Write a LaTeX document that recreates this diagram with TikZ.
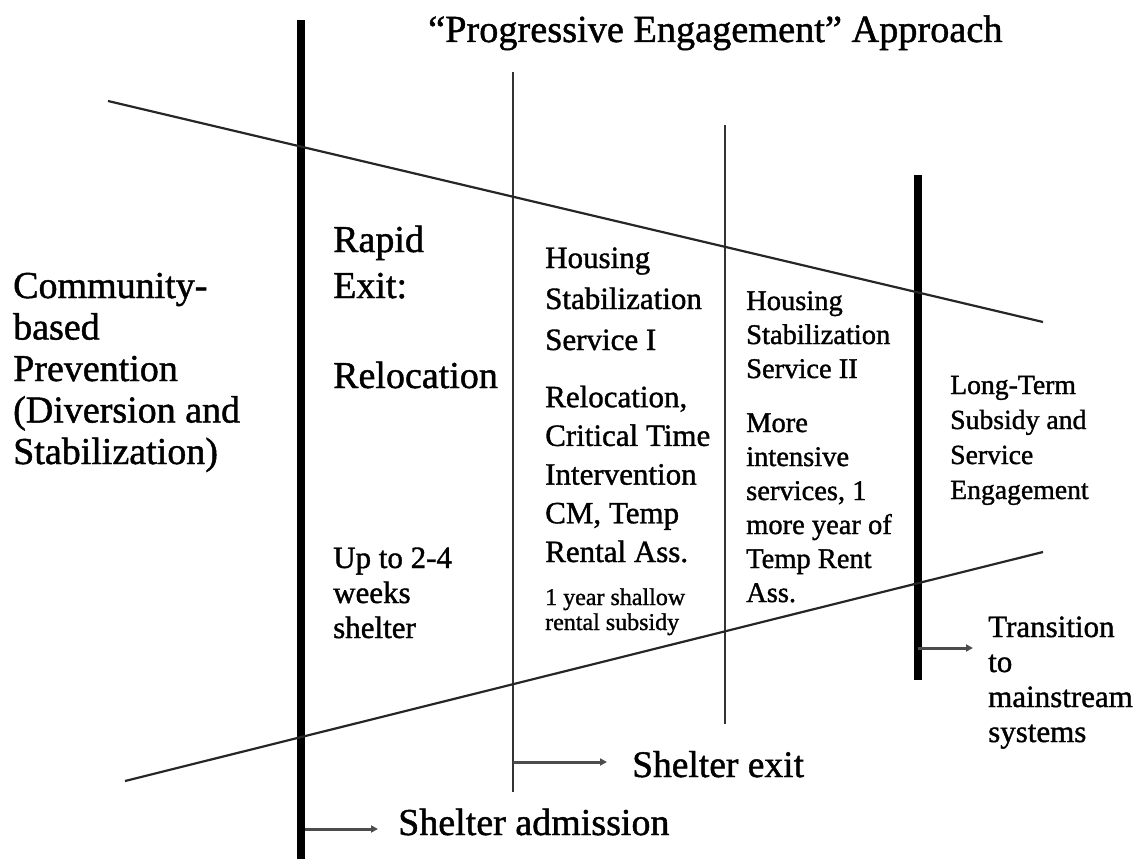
\documentclass[tikz,border=0pt]{standalone}
\usepackage{fontspec}
\setmainfont[FakeBold=1.2]{Liberation Serif}
\usetikzlibrary{arrows.meta}
\begin{document}
\begin{tikzpicture}[x=1pt,y=-1pt,
  thickline/.style={line width=7.5pt,black},
  thinline/.style={line width=2.8pt,black!80},
  diagline/.style={line width=2.2pt,black!85},
  arrowline/.style={line width=3pt,black!70,-{Triangle[length=7pt,width=7pt]}},
  lbl/.style={anchor=base west,inner sep=0pt,align=left,text=black}]
\useasboundingbox (0,0) rectangle (1141,859);
% structural lines
\coordinate (adT) at (301,20);  \coordinate (adB) at (301,859);
\coordinate (exT) at (513,72);  \coordinate (exB) at (513,792);
\coordinate (hsT) at (725,125); \coordinate (hsB) at (725,724);
\coordinate (trT) at (918,175); \coordinate (trB) at (918,680);
\coordinate (upL) at (108,101); \coordinate (upR) at (1043,322);
\coordinate (loL) at (125,781); \coordinate (loR) at (1043,552);
\draw[thickline] (adT) -- (adB);
\draw[thinline] (exT) -- (exB);
\draw[thinline] (hsT) -- (hsB);
\draw[thickline] (trT) -- (trB);
\draw[diagline] (upL) -- (upR);
\draw[diagline] (loL) -- (loR);
% texts (anchor = baseline of last line)
\node[lbl,font=\fontsize{38.3}{42}\selectfont] (title) at (428,42) {“Progressive Engagement” Approach};
\node[lbl,font=\fontsize{38}{41.5}\selectfont] (prev) at (13,464) {Community-\\based\\Prevention\\(Diversion and\\Stabilization)};
\node[lbl,font=\fontsize{38}{46}\selectfont] (rapid) at (333,298) {Rapid\\Exit:};
\node[lbl,font=\fontsize{38}{46}\selectfont] (reloc) at (333,388) {Relocation};
\node[lbl,font=\fontsize{31}{35}\selectfont] (upto) at (333,638) {Up to 2-4\\weeks\\shelter};
\node[lbl,font=\fontsize{31}{41}\selectfont] (hsone) at (545,350) {Housing\\Stabilization\\Service I};
\node[lbl,font=\fontsize{31}{38.7}\selectfont] (hsonebody) at (545,562) {Relocation,\\Critical Time\\Intervention\\CM, Temp\\Rental Ass.};
\node[lbl,font=\fontsize{24}{25}\selectfont] (hsonesmall) at (545,630) {1 year shallow\\rental subsidy};
\node[lbl,font=\fontsize{28.5}{34}\selectfont] (hstwo) at (746,378) {Housing\\Stabilization\\Service II};
\node[lbl,font=\fontsize{28.5}{34}\selectfont] (hstwobody) at (746,602) {More\\intensive\\services, 1\\more year of\\Temp Rent\\Ass.};
\node[lbl,font=\fontsize{27.7}{35}\selectfont] (longterm) at (950,499) {Long-Term\\Subsidy and\\Service\\Engagement};
\node[lbl,font=\fontsize{31}{35}\selectfont] (trans) at (988,742) {Transition\\to\\mainstream\\systems};
\node[lbl,font=\fontsize{37.5}{40}\selectfont] (sexit) at (632,777) {Shelter exit};
\node[lbl,font=\fontsize{38}{40}\selectfont] (sadm) at (398,835) {Shelter admission};
% arrows
\coordinate (aS) at (305,829); \coordinate (aE) at (378,829);
\coordinate (eS) at (513,762); \coordinate (eE) at (607,762);
\coordinate (tS) at (918,648); \coordinate (tE) at (973,648);
\draw[arrowline] (aS) -- (aE);
\draw[arrowline] (eS) -- (eE);
\draw[arrowline] (tS) -- (tE);
\end{tikzpicture}
\end{document}
